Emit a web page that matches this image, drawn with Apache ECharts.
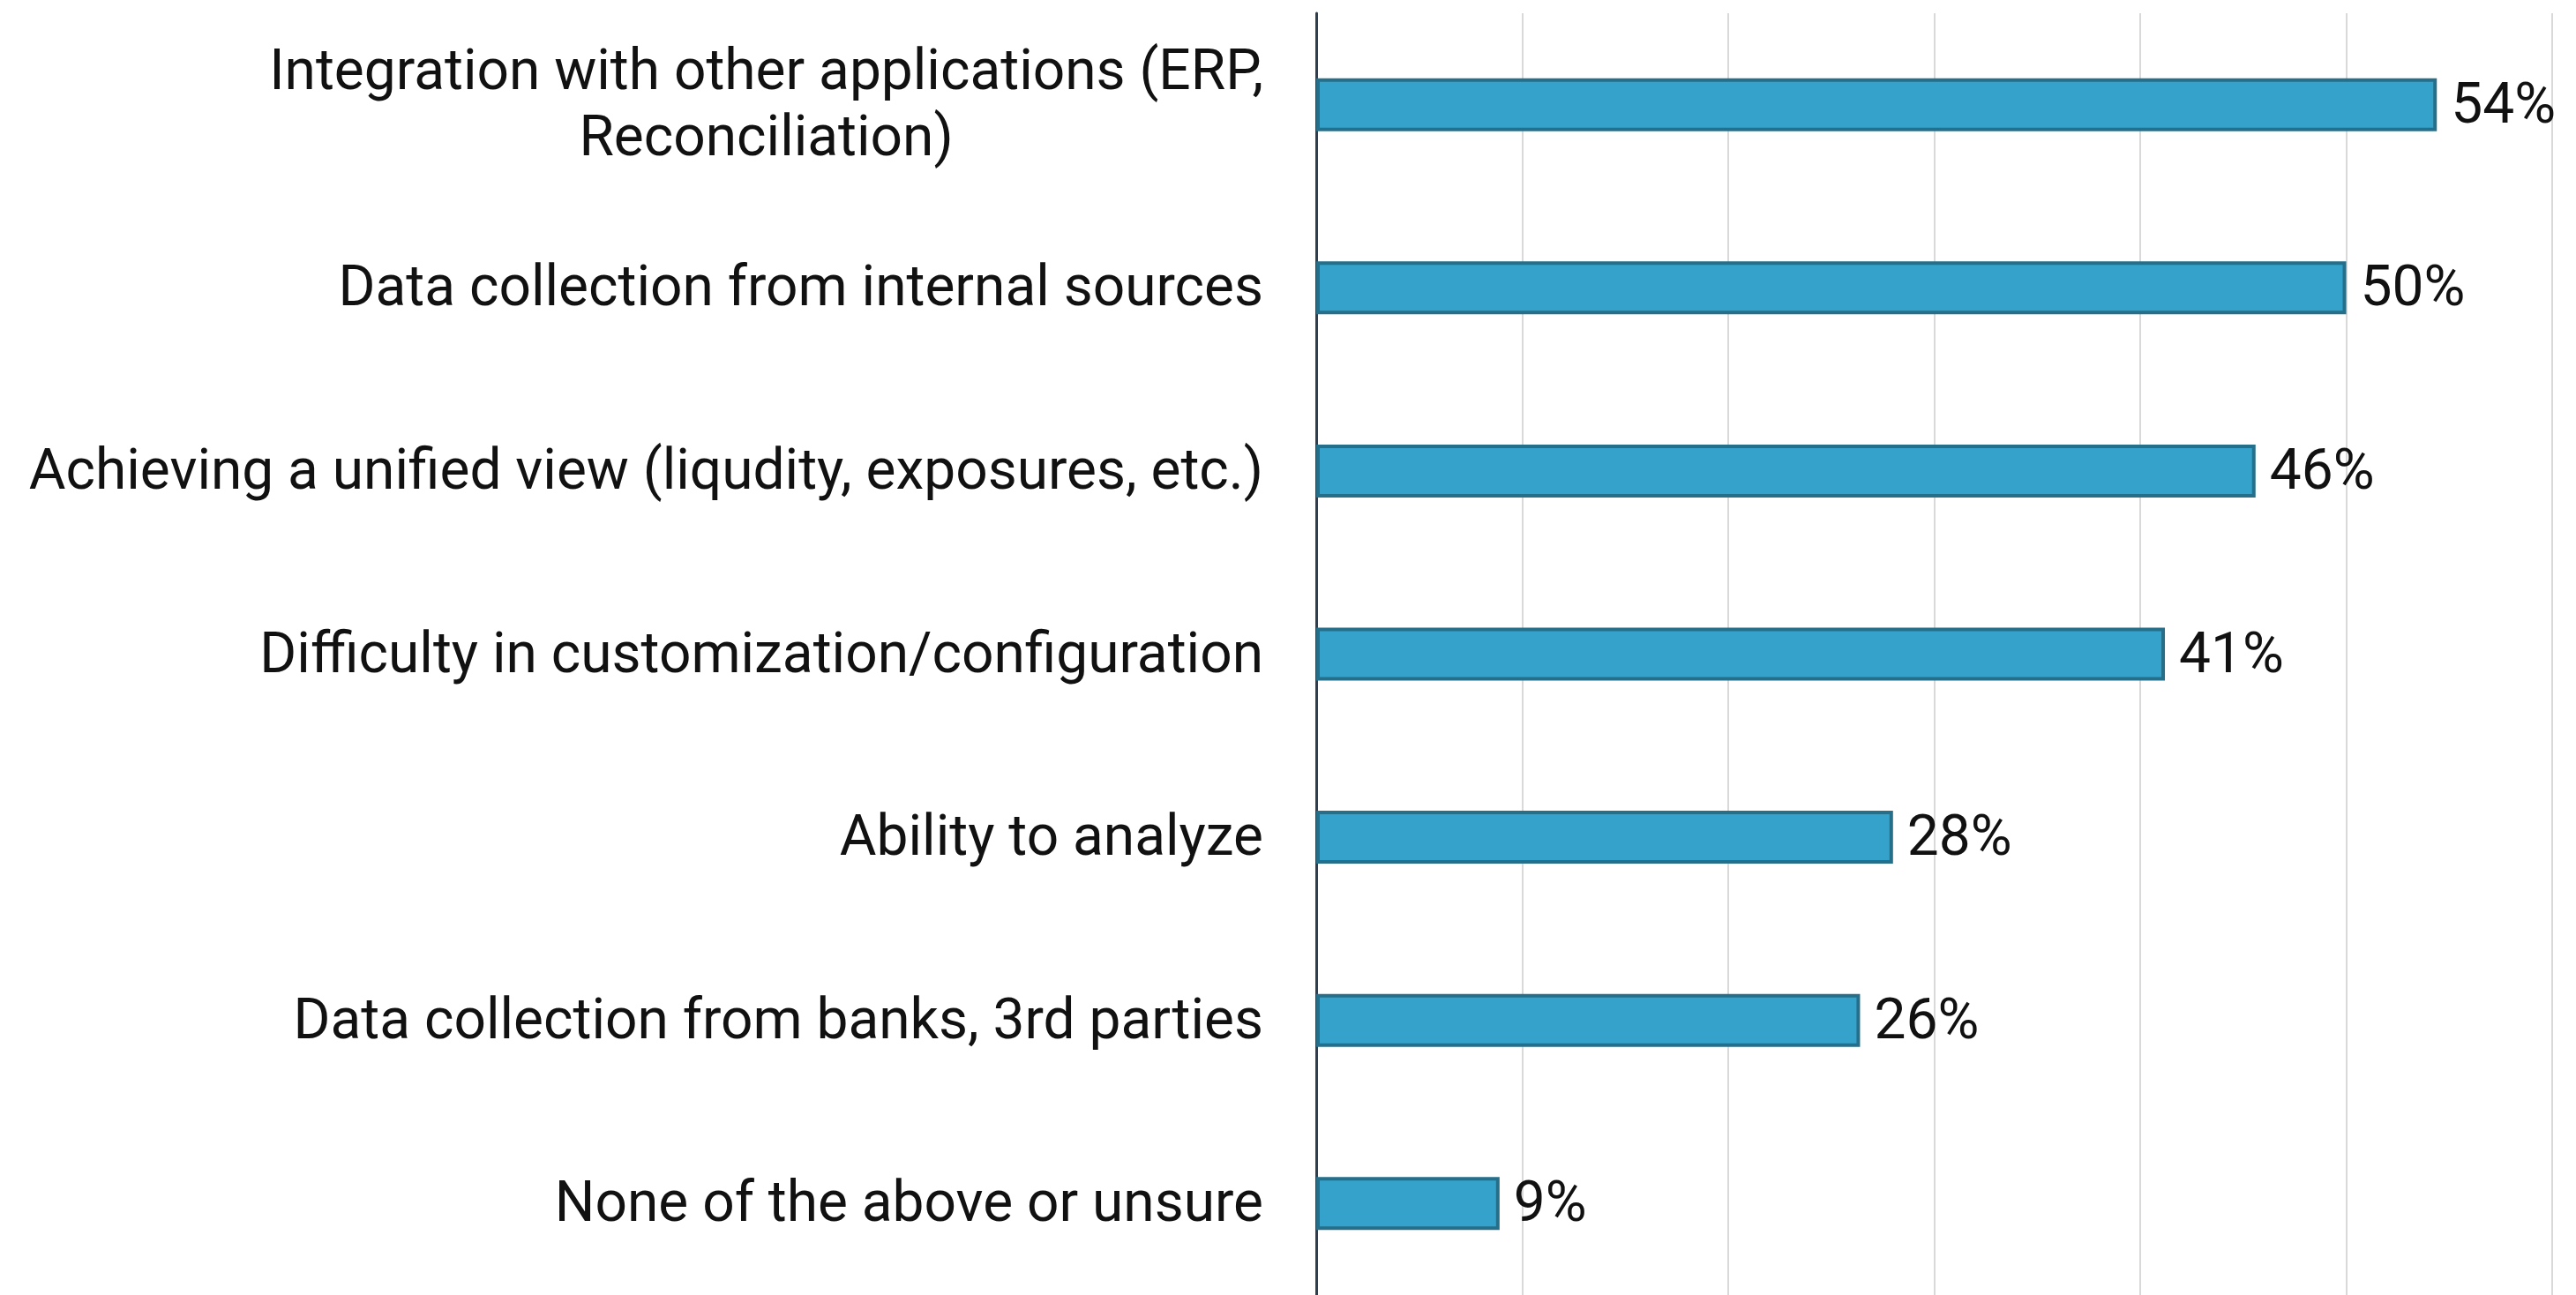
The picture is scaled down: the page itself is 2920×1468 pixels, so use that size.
<!DOCTYPE html>
<html>
<head>
<meta charset="utf-8">
<script src="https://cdn.jsdelivr.net/npm/echarts@6/dist/echarts.min.js"></script>
<style>
  html, body { margin: 0; padding: 0; background: #fff; }
  #chart { width: 2920px; height: 1468px; }
</style>
</head>
<body>
<div id="chart"></div>
<script>
// categories, top to bottom
const categories = [
  'Integration with other applications (ERP,\nReconciliation)',
  'Data collection from internal sources',
  'Achieving a unified view (liqudity, exposures, etc.)',
  'Difficulty in customization/configuration',
  'Ability to analyze',
  'Data collection from banks, 3rd parties',
  'None of the above or unsure'
];
// share of respondents, %
const values = [54.4, 50, 45.6, 41.2, 28, 26.4, 8.9];

const chart = echarts.init(document.getElementById('chart'));

chart.setOption({
  animation: false,
  textStyle: { fontFamily: 'Roboto' },
  grid: { left: 1492, width: 1401, top: 15, height: 1460, containLabel: false },
  xAxis: {
    type: 'value',
    min: 0,
    max: 60,
    interval: 10,
    axisLabel: { show: false },
    axisLine: { show: false },
    axisTick: { show: false },
    splitLine: { lineStyle: { color: '#d9d9d9', width: 2 } }
  },
  yAxis: {
    type: 'category',
    inverse: true,
    data: categories,
    axisTick: { show: false },
    axisLine: { lineStyle: { color: '#2c3e50', width: 3 } },
    axisLabel: {
      margin: 60,
      color: '#111',
      fontSize: 64,
      lineHeight: 75,
      padding: [8, 0, 0, 0],
      formatter(v) {
        return v.split('\n').map(s => `{c|${s}}`).join('\n');
      },
      rich: {
        c: { fontSize: 64, lineHeight: 75, color: '#111', align: 'center', fontFamily: 'Roboto' }
      }
    }
  },
  series: [{
    type: 'bar',
    data: values,
    barWidth: 60,
    itemStyle: { color: '#35a2cb', borderColor: '#266f8a', borderWidth: 4 },
    label: {
      show: true,
      position: 'right',
      distance: 16,
      offset: [0, 4],
      color: '#111',
      fontSize: 64,
      fontFamily: 'Roboto',
      formatter: p => Math.round(p.value) + '%'
    }
  }]
});
</script>
</body>
</html>
